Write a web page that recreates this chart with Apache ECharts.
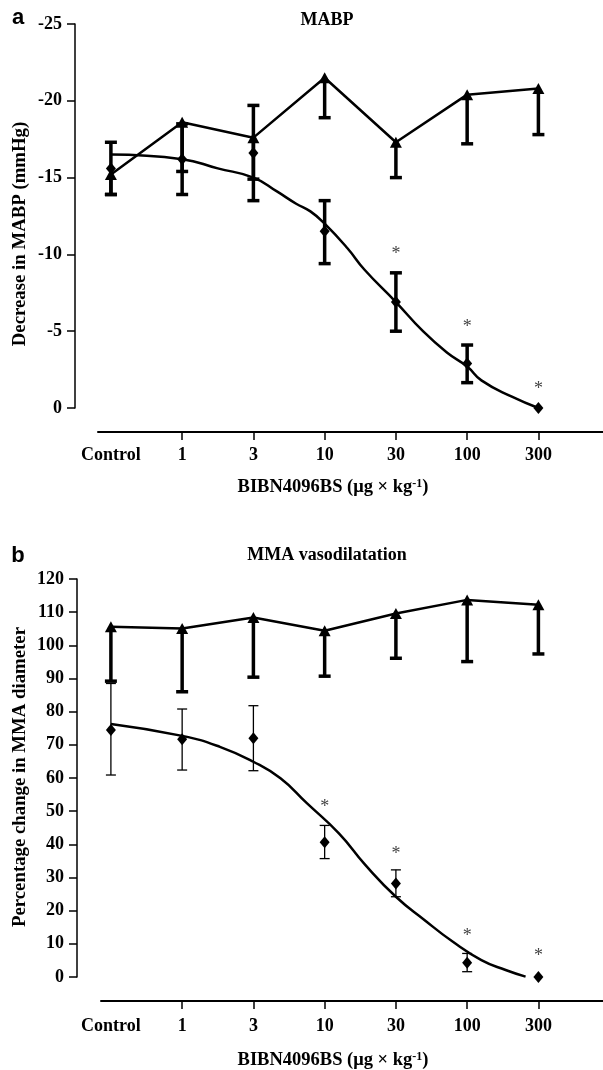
<!DOCTYPE html>
<html><head><meta charset="utf-8">
<script src="https://cdn.jsdelivr.net/npm/echarts@6/dist/echarts.min.js"></script>
<style>html,body{margin:0;padding:0;background:#fff}#c{width:603px;height:1070px}</style>
</head><body><div id="c"></div>
<script>
// ---------- data ----------
const categories = ['Control', '1', '3', '10', '30', '100', '300'];
const xIndex = [0, 1, 2, 3, 4, 5, 6];

// Panel a : MABP (decrease in mmHg)
const mabpTriangle    = [-15.2, -18.6, -17.6, -21.5, -17.3, -20.4, -20.8];
const mabpTriangleEnd = [-13.9, -15.4, -14.9, -18.9, -15.0, -17.2, -17.8];
const mabpDiamond     = [-15.6, -16.2, -16.6, -11.5, -6.9, -2.9, 0];
const mabpDiamondHi   = [-17.3, -18.5, -19.7, -13.5, -8.8, -4.1, null];
const mabpDiamondLo   = [-13.9, -13.9, -13.5, -9.4, -5.0, -1.65, null];
const mabpStarX       = [4, 5, 6];
const mabpStarY       = [-10.2, -5.45, -1.39];
const mabpCurveX      = [0, 1, 1.5, 2, 2.33, 2.6, 2.8, 3, 3.32, 3.56, 4, 4.38, 4.72, 5, 5.2, 5.62, 6];
const mabpCurveY      = [-16.5, -16.2, -15.6, -15.0, -14.1, -13.3, -12.8, -12.0, -10.4, -9.0, -6.9, -5.0, -3.6, -2.7, -1.8, -0.75, 0];

// Panel b : MMA vasodilatation (% change in diameter)
const mmaTriangle     = [105.6, 105.1, 108.4, 104.4, 109.6, 113.7, 112.2];
const mmaTriangleEnd  = [89.2, 86.0, 90.4, 90.7, 96.1, 95.1, 97.4];
const mmaDiamond      = [74.5, 71.7, 72.0, 40.6, 28.2, 4.3, 0];
const mmaDiamondHi    = [88.5, 80.8, 81.8, 45.7, 32.3, 7.1, null];
const mmaDiamondLo    = [60.9, 62.4, 62.2, 35.7, 24.2, 1.6, null];
const mmaStarX        = [3, 4, 5, 6];
const mmaStarY        = [52.2, 37.8, 13.2, 7.1];
const mmaCurveX       = [0, 1, 1.53, 2, 2.38, 2.75, 3.2, 3.57, 4, 4.4, 4.8, 5.2, 5.54, 5.82];
const mmaCurveY       = [76.3, 72.7, 69.4, 64.9, 59.9, 52.4, 43.3, 33.8, 24.2, 17.2, 10.6, 5.1, 2.1, 0.1];

// ---------- helpers ----------
const SERIF = '"Liberation Serif", "Times New Roman", serif';
const BLACK = '#000';

function barRender(width, capW, capLo, capHi) {
  return function (params, api) {
    const x = api.value(0), lo = api.value(1), hi = api.value(2);
    const a = api.coord([x, lo]), b = api.coord([x, hi]);
    const st = { stroke: BLACK, lineWidth: width };
    const ch = [{ type: 'line', shape: { x1: a[0], y1: a[1], x2: b[0], y2: b[1] }, style: st }];
    if (capLo) ch.push({ type: 'line', shape: { x1: a[0] - capW / 2, y1: a[1], x2: a[0] + capW / 2, y2: a[1] }, style: st });
    if (capHi) ch.push({ type: 'line', shape: { x1: b[0] - capW / 2, y1: b[1], x2: b[0] + capW / 2, y2: b[1] }, style: st });
    return { type: 'group', children: ch };
  };
}
function starRender(params, api) {
  const p = api.coord([api.value(0), api.value(1)]);
  return { type: 'text', x: p[0], y: p[1] + 3,
    style: { text: '*', font: '18px ' + SERIF, fill: '#444', align: 'center', verticalAlign: 'middle', textAlign: 'center', textVerticalAlign: 'middle' } };
}
const pairs = (xs, ys) => xs.map((x, i) => [x, ys[i]]);
const diaBars = (d, hi, lo) => xIndex.filter(i => hi[i] != null).map(i => [i, lo[i], hi[i]]);
const triBars = (t, e) => xIndex.map(i => [i, e[i], t[i]]);

// pixel layout -> index mapping: data point i at x ~ 110.9 + 71.25*i
const PX0 = 110.9, PXS = 71.25;
const idxAt = px => (px - PX0) / PXS;

function dataX(gi, left) {
  return { gridIndex: gi, type: 'value', min: idxAt(left), max: idxAt(603), show: false };
}
function catX(gi, left, labelMargin) {
  return {
    gridIndex: gi, type: 'value', min: idxAt(left), max: idxAt(603),
    axisLine: { show: true, onZero: false, lineStyle: { color: BLACK, width: 2 } },
    axisTick: { show: true, inside: false, length: 8, lineStyle: { color: BLACK, width: 1.5 }, customValues: [1, 2, 3, 4, 5, 6] },
    axisLabel: { show: true, margin: labelMargin, customValues: xIndex, formatter: v => categories[Math.round(v)],
      color: BLACK, fontFamily: SERIF, fontWeight: 'bold', fontSize: 18 },
    splitLine: { show: false }
  };
}
function valY(gi, min, max, interval, inverse) {
  return {
    gridIndex: gi, type: 'value', min, max, interval, inverse,
    axisLine: { show: true, onZero: false, lineStyle: { color: BLACK, width: 1.5 } },
    axisTick: { show: true, length: 8, lineStyle: { color: BLACK, width: 1.5 } },
    axisLabel: { margin: 13, color: BLACK, fontFamily: SERIF, fontWeight: 'bold', fontSize: 18 },
    splitLine: { show: false }
  };
}
const hiddenY = gi => ({ gridIndex: gi, type: 'value', show: false, min: 0, max: 1 });

function panelSeries(xi, yi, tri, triEnd, dia, hi, lo, sx, sy, cx, cy, diaBarW, diaCapW) {
  return [
    { type: 'custom', xAxisIndex: xi, yAxisIndex: yi, z: 1, renderItem: barRender(3.5, 12, true, false),
      data: triBars(tri, triEnd), encode: { x: 0, y: [1, 2] } },
    { type: 'custom', xAxisIndex: xi, yAxisIndex: yi, z: 1, renderItem: barRender(diaBarW, diaCapW, true, true),
      data: diaBars(dia, hi, lo), encode: { x: 0, y: [1, 2] } },
    { type: 'line', xAxisIndex: xi, yAxisIndex: yi, z: 2, smooth: true, showSymbol: false,
      lineStyle: { color: BLACK, width: 2.5 }, data: pairs(cx, cy) },
    { type: 'line', xAxisIndex: xi, yAxisIndex: yi, z: 3, symbol: 'triangle', symbolSize: [12, 11],
      itemStyle: { color: BLACK, opacity: 1 }, lineStyle: { color: BLACK, width: 2.5 }, data: pairs(xIndex, tri) },
    { type: 'scatter', xAxisIndex: xi, yAxisIndex: yi, z: 4, symbol: 'diamond', symbolSize: [10, 12],
      itemStyle: { color: BLACK, opacity: 1 }, data: pairs(xIndex, dia) },
    { type: 'custom', xAxisIndex: xi, yAxisIndex: yi, z: 5, renderItem: starRender,
      data: pairs(sx, sy), encode: { x: 0, y: 1 } }
  ];
}

function txt(x, y, text, font, rot, extra) {
  return Object.assign({ type: 'text', x, y, rotation: rot || 0,
    style: Object.assign({ text, font, fill: BLACK, align: 'center', verticalAlign: 'middle', textAlign: 'center', textVerticalAlign: 'middle' }, extra || {}) });
}
const supRich = { sup: { font: 'bold 12px ' + SERIF, fill: BLACK, verticalAlign: 'top', padding: [0, 0, 6, 0] } };

const chart = echarts.init(document.getElementById('c'), null, { renderer: 'canvas' });
chart.setOption({
  animation: false,
  backgroundColor: '#fff',
  grid: [
    { left: 75, top: 24, width: 528, height: 384 },
    { left: 98, top: 100, width: 505, height: 332 },
    { left: 77, top: 579, width: 526, height: 398 },
    { left: 101, top: 700, width: 502, height: 301 }
  ],
  xAxis: [dataX(0, 75), catX(1, 98, 14), dataX(2, 77), catX(3, 101, 16)],
  yAxis: [valY(0, -25, 0, 5, true), hiddenY(1), valY(2, 0, 120, 10, false), hiddenY(3)],
  series: [].concat(
    panelSeries(0, 0, mabpTriangle, mabpTriangleEnd, mabpDiamond, mabpDiamondHi, mabpDiamondLo,
      mabpStarX, mabpStarY, mabpCurveX, mabpCurveY, 3.5, 12),
    panelSeries(2, 2, mmaTriangle, mmaTriangleEnd, mmaDiamond, mmaDiamondHi, mmaDiamondLo,
      mmaStarX, mmaStarY, mmaCurveX, mmaCurveY, 1.3, 10),
    [{ type: 'scatter', xAxisIndex: 1, yAxisIndex: 1, data: [] }, { type: 'scatter', xAxisIndex: 3, yAxisIndex: 3, data: [] }]
  ),
  graphic: [
    txt(18, 18, 'a', 'bold 22px "Liberation Sans", Arial, sans-serif'),
    txt(18, 556, 'b', 'bold 22px "Liberation Sans", Arial, sans-serif'),
    txt(327, 20, 'MABP', 'bold 18px ' + SERIF),
    txt(327, 555, 'MMA vasodilatation', 'bold 18px ' + SERIF),
    txt(20, 234, 'Decrease in MABP (mmHg)', 'bold 18.8px ' + SERIF, Math.PI / 2),
    txt(20, 777, 'Percentage change in MMA diameter', 'bold 18.8px ' + SERIF, Math.PI / 2),
    txt(333, 487, 'BIBN4096BS (μg × kg{sup|-1})', 'bold 18.5px ' + SERIF, 0, { rich: supRich }),
    txt(333, 1060, 'BIBN4096BS (μg × kg{sup|-1})', 'bold 18.5px ' + SERIF, 0, { rich: supRich })
  ]
});
</script>
</body></html>
